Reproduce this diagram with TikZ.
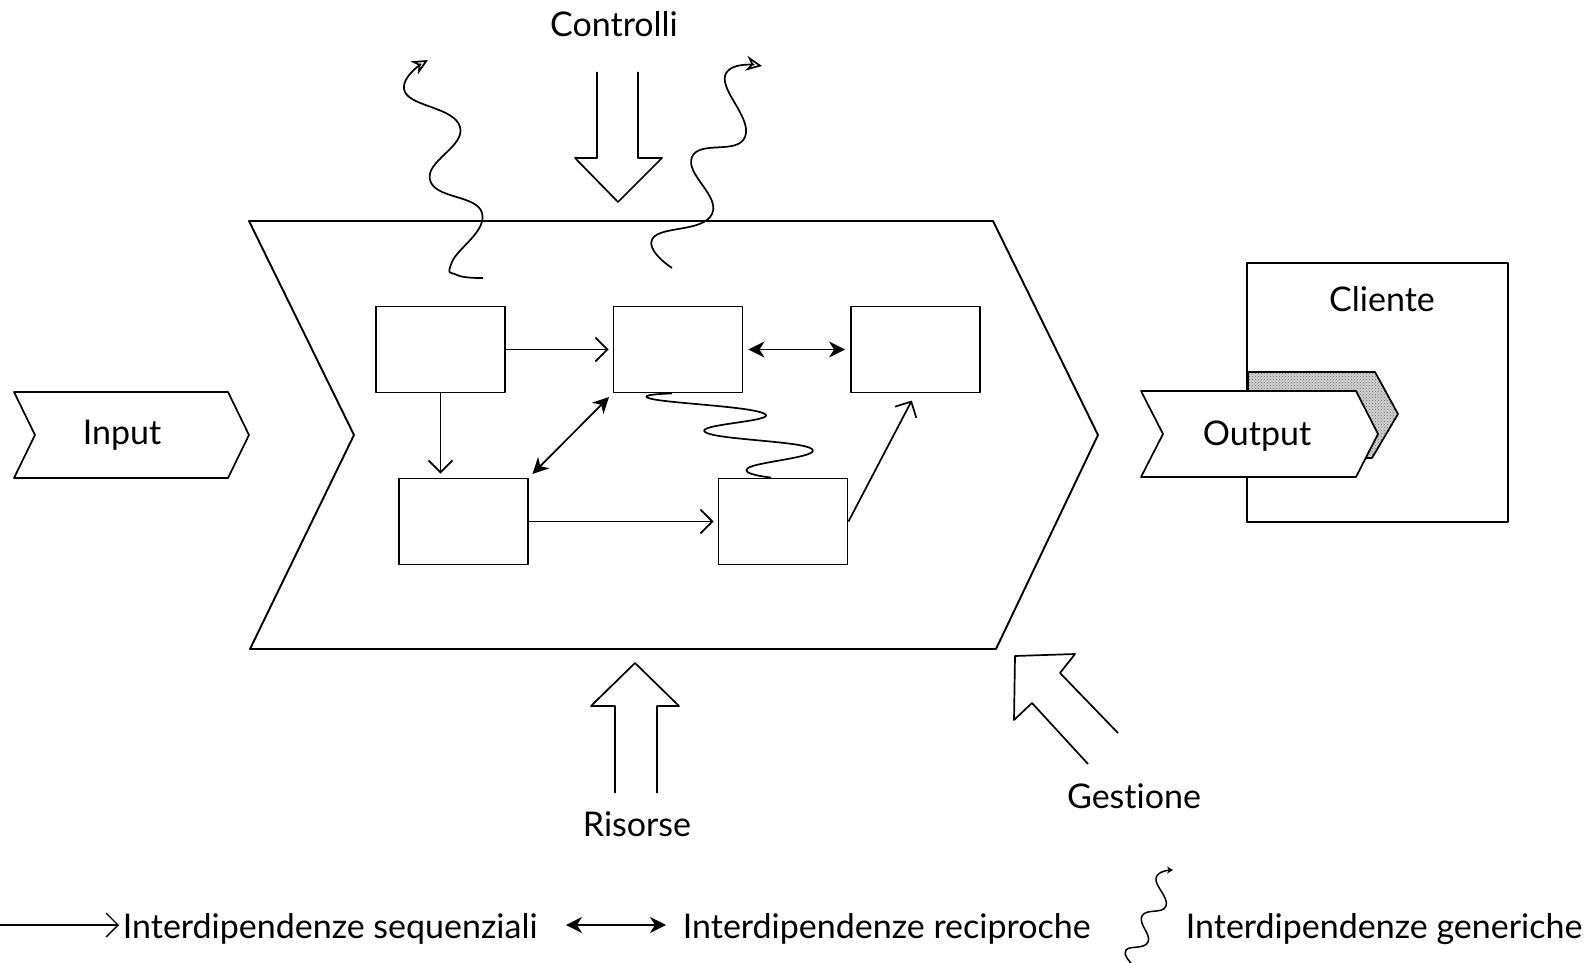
\documentclass[tikz,border=0pt]{standalone}
\usepackage{fontspec}
\setmainfont[Ligatures=NoCommon]{Lato}
\usetikzlibrary{positioning,arrows.meta,calc,patterns}

\begin{document}
\begin{tikzpicture}[x=1pt, y=-1pt, line width=1.7pt, line join=round,
    box/.style={rectangle, draw, line width=1.9pt, minimum width=129pt, minimum height=86pt},
    seq/.style={-{Straight Barb[length=12pt,width=24pt]}, shorten >=4pt},
    rec/.style={{Stealth[length=16pt,width=16pt,inset=5pt]}-{Stealth[length=16pt,width=16pt,inset=5pt]}, shorten >=5pt, shorten <=5pt},
    gen/.style={line width=1.7pt},
    lbl/.style={font=\fontsize{34}{37}\selectfont, inner sep=0pt, anchor=base}]

    \useasboundingbox (0,0) rectangle (1591,963);

    %% Processo
    \draw[line width=1.9pt] (249,221) -- (993,221) -- (1098,435) -- (996,649) -- (250,649) -- (354,435) -- cycle;

    %% Input
    \draw (14,392) -- (228,392) -- (249,435) -- (228,478) -- (14,478) -- (35,435) -- cycle;
    \node[lbl] (in) at (122,444) {Input};

    %% Attivita
    \node[box] (A) at (440.5,349.5) {};
    \node[box] (B) at (678,349.5) {};
    \node[box] (C) at (915.5,349.5) {};
    \node[box] (D) at (463.5,521.5) {};
    \node[box] (E) at (783,521.5) {};

    \draw[seq] (A.east) -- (B.west);
    \draw[rec] (B.east) -- (C.west);
    \draw[seq] (A.south) -- (A.south |- D.north);
    \draw[rec] (D.north east) -- (B.south west);
    \draw[seq] (D.east) -- (E.west);
    \draw[seq, shorten >=8pt] (E.east) -- (C.south);
    \draw[gen] plot[smooth, tension=0.8] coordinates {([xshift=-6pt]B.south) (652,399) (765,414) (705,432) (812,449) (748,468) ([xshift=-12pt]E.north)};

    %% Controlli
    \draw (597,72) -- (597,158) -- (575,158) -- (618,202) -- (662,158) -- (638,158) -- (638,72);
    \node[lbl] (ctrl) at (614,37) {Controlli};
    \coordinate (w1) at (483,278);
    \coordinate (w2) at (672,268);
    \draw[gen, -{Stealth[length=16pt,width=15pt,open]}] plot[smooth, tension=0.8] coordinates {(w1) (457,275) (452,262) (482,213) (430,180) (460,127) (405,92) (428,60)};
    \draw[gen, -{Stealth[length=16pt,width=15pt,open]}] plot[smooth, tension=0.8] coordinates {(w2) (653,238) (712,214) (692,157) (745,137) (725,76) (762,66)};

    %% Risorse
    \draw (615,793) -- (615,706) -- (591,706) -- (635,663) -- (679,706) -- (657,706) -- (657,793);
    \node[lbl] (ris) at (637,836) {Risorse};

    %% Gestione
    \draw (1118,733) -- (1060,673) -- (1075,654) -- (1015,656) -- (1014,720) -- (1032,703) -- (1088,764);
    \node[lbl] (gest) at (1134,808) {Gestione};

    %% Cliente
    \node[draw, line width=1.9pt, minimum width=261pt, minimum height=259pt] (cl) at (1377.5,392.5) {};
    \node[lbl] (cltxt) at (1382,311) {Cliente};
    \draw[pattern=crosshatch dots, pattern color=gray!80!black, preaction={fill=gray!35}] (1248,391) -- (1248,372) -- (1375,372) -- (1398,414) -- (1372,458) -- (1360,458);
    \draw[fill=white] (1141,391) -- (1356,391) -- (1378,434) -- (1356,477) -- (1141,477) -- (1163,434) -- cycle;
    \node[lbl] (out) at (1257,445) {Output};

    %% Legenda
    \node[lbl, anchor=base west] (seqtxt) at (122,938) {Interdipendenze sequenziali};
    \node[lbl, anchor=base west] (rectxt) at (682,938) {Interdipendenze reciproche};
    \node[lbl, anchor=base west] (gentxt) at (1185,938) {Interdipendenze generiche};
    \coordinate (s0) at (0,925);
    \coordinate (r0) at (566,925);
    \coordinate (g0) at (1131,963);
    \draw[seq, line width=1.3pt, shorten >=3pt] (s0) -- (s0 -| seqtxt.west);
    \draw[rec, line width=1.3pt, shorten <=0pt, shorten >=16pt] (r0) -- (r0 -| rectxt.west);
    \draw[gen, line width=1.5pt, -{Stealth[length=6pt,width=7pt]}] plot[smooth, tension=0.8] coordinates {(g0) (1126,950) (1148,942) (1142,916) (1166,906) (1156,878) (1173,870)};
\end{tikzpicture}
\end{document}
